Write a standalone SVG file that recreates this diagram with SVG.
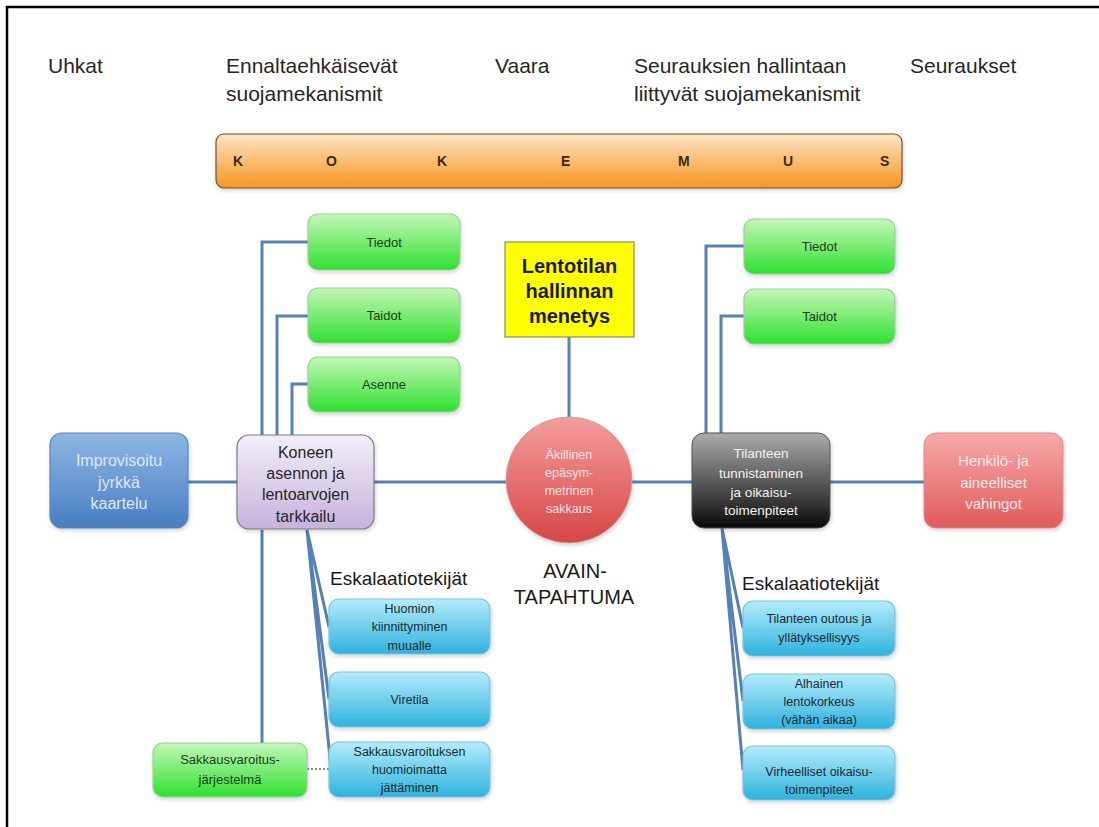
<svg xmlns="http://www.w3.org/2000/svg" width="1099" height="827" viewBox="0 0 1099 827">
<style>
text{font-family:"Liberation Sans",Arial,sans-serif}
.hdr{font-size:21px;fill:#262626}
.bar{font-size:14px;font-weight:bold;fill:#3a2a10}
.c{text-anchor:middle}
.con{fill:none;stroke:#5580b8;stroke-width:3}
.g{fill:url(#gGreen);stroke:#9ccf9c;stroke-width:1.2}
.cy{fill:url(#gCyan);stroke:#7ec3dc;stroke-width:1.2}
.gt{font-size:13px;fill:#1d3b1d}
.ct{font-size:12.5px;fill:#1b2a33}
.esk{font-size:19px;fill:#1a1a1a}
</style>
<defs>
<linearGradient id="gBar" x1="0" y1="0" x2="0" y2="1"><stop offset="0" stop-color="#fde4c6"/><stop offset="1" stop-color="#f7951f"/></linearGradient>
<linearGradient id="gGreen" x1="0" y1="0" x2="0" y2="1"><stop offset="0" stop-color="#c4f7b8"/><stop offset="1" stop-color="#2fe02f"/></linearGradient>
<linearGradient id="gCyan" x1="0" y1="0" x2="0" y2="1"><stop offset="0" stop-color="#b4ecfb"/><stop offset="1" stop-color="#2eb2dd"/></linearGradient>
<linearGradient id="gBlue" x1="0" y1="0" x2="0" y2="1"><stop offset="0" stop-color="#8fb6e4"/><stop offset="1" stop-color="#467ec2"/></linearGradient>
<linearGradient id="gPurple" x1="0" y1="0" x2="0" y2="1"><stop offset="0" stop-color="#f3eef8"/><stop offset="1" stop-color="#c5b3dc"/></linearGradient>
<linearGradient id="gDark" x1="0" y1="0" x2="0" y2="1"><stop offset="0" stop-color="#acacac"/><stop offset="1" stop-color="#0a0a0a"/></linearGradient>
<linearGradient id="gRed" x1="0" y1="0" x2="0" y2="1"><stop offset="0" stop-color="#f6aaaa"/><stop offset="1" stop-color="#e15a5a"/></linearGradient>
<linearGradient id="gCircle" x1="0" y1="0" x2="0" y2="1"><stop offset="0" stop-color="#f39d9d"/><stop offset="1" stop-color="#d84545"/></linearGradient>
<filter id="sh" x="-10%" y="-10%" width="125%" height="130%"><feDropShadow dx="1" dy="2" stdDeviation="2" flood-color="#000" flood-opacity="0.18"/></filter>
</defs>
<rect width="1099" height="827" fill="#fff"/>
<path d="M7,827 V7 H1099" fill="none" stroke="#000" stroke-width="2.5"/>

<g id="headers">
<text class="hdr" x="48" y="73">Uhkat</text>
<text class="hdr" x="226" y="73">Ennaltaehkäisevät</text>
<text class="hdr" x="226" y="101">suojamekanismit</text>
<text class="hdr" x="495" y="73">Vaara</text>
<text class="hdr" x="634" y="73">Seurauksien hallintaan</text>
<text class="hdr" x="634" y="101">liittyvät suojamekanismit</text>
<text class="hdr" x="910" y="73">Seuraukset</text>
</g>

<g id="kokemus">
<rect x="216" y="134" width="686" height="54" rx="8" fill="url(#gBar)" stroke="#6e5230" stroke-width="1.2" filter="url(#sh)"/>
<text class="bar" x="233" y="166">K</text>
<text class="bar" x="326" y="166">O</text>
<text class="bar" x="437" y="166">K</text>
<text class="bar" x="561" y="166">E</text>
<text class="bar" x="678" y="166">M</text>
<text class="bar" x="783" y="166">U</text>
<text class="bar" x="880" y="166">S</text>
</g>

<g id="connectors">
<path class="con" d="M188,482 H237 M374,482 H506 M632,482 H692 M830,482 H924"/>
<path class="con" d="M262,435 V242 H308 M277,435 V316 H308 M292,435 V384 H308"/>
<path class="con" d="M569,337 V417"/>
<path class="con" d="M706,433 V246 H744 M721,433 V316 H744"/>
<path class="con" d="M262,530 V743"/>
<path class="con" d="M307,530 L329,627 M307,530 L329,699 M307,530 L331,768"/>
<path class="con" d="M722,528 L743,628 M722,528 L743,701 M722,528 L743,770"/>
<path d="M307,769 H329" fill="none" stroke="#8a8a8a" stroke-width="2" stroke-dasharray="2 2"/>
</g>

<g id="tiedot-left"><rect class="g" x="308" y="214" width="152" height="56" rx="10" filter="url(#sh)"/><text class="gt c" x="384" y="247">Tiedot</text></g>
<g id="taidot-left"><rect class="g" x="308" y="288" width="152" height="55" rx="10" filter="url(#sh)"/><text class="gt c" x="384" y="320">Taidot</text></g>
<g id="asenne"><rect class="g" x="308" y="357" width="152" height="55" rx="10" filter="url(#sh)"/><text class="gt c" x="384" y="389">Asenne</text></g>

<g id="improvisoitu"><rect x="50" y="433" width="138" height="95" rx="12" fill="url(#gBlue)" stroke="#5a86bf" stroke-width="1.2" filter="url(#sh)"/>
<text class="c" x="119" y="466" font-size="16" fill="#dfe8f4">Improvisoitu</text><text class="c" x="119" y="488" font-size="16" fill="#dfe8f4">jyrkkä</text><text class="c" x="119" y="509" font-size="16" fill="#dfe8f4">kaartelu</text></g>

<g id="koneen"><rect x="237" y="435" width="137" height="94" rx="12" fill="url(#gPurple)" stroke="#7d7d7d" stroke-width="1.2" filter="url(#sh)"/>
<text class="c" x="305.5" y="458" font-size="16" fill="#262626">Koneen</text><text class="c" x="305.5" y="479" font-size="16" fill="#262626">asennon ja</text><text class="c" x="305.5" y="500" font-size="16" fill="#262626">lentoarvojen</text><text class="c" x="305.5" y="522" font-size="16" fill="#262626">tarkkailu</text></g>

<g id="lentotilan"><rect x="505" y="242" width="129" height="95" fill="#ffff00" stroke="#8a8a6a" stroke-width="1.2"/>
<text class="c" x="569.5" y="273" font-size="20" font-weight="bold" fill="#1a1a1a">Lentotilan</text><text class="c" x="569.5" y="298" font-size="20" font-weight="bold" fill="#1a1a1a">hallinnan</text><text class="c" x="569.5" y="323" font-size="20" font-weight="bold" fill="#1a1a1a">menetys</text></g>

<g id="sakkaus"><circle cx="569" cy="480" r="63" fill="url(#gCircle)" stroke="#c9a0a0" stroke-width="1" filter="url(#sh)"/>
<text class="c" x="569" y="459" font-size="12.5" fill="#fbe3e3">Äkillinen</text><text class="c" x="569" y="477" font-size="12.5" fill="#fbe3e3">epäsym-</text><text class="c" x="569" y="495" font-size="12.5" fill="#fbe3e3">metrinen</text><text class="c" x="569" y="513" font-size="12.5" fill="#fbe3e3">sakkaus</text></g>
<g id="avain"><text class="c" x="575" y="578" font-size="20" fill="#1a1a1a">AVAIN-</text><text class="c" x="574" y="604" font-size="20" fill="#1a1a1a">TAPAHTUMA</text></g>

<g id="tilanteen"><rect x="692" y="433" width="138" height="95" rx="12" fill="url(#gDark)" stroke="#555" stroke-width="1" filter="url(#sh)"/>
<text class="c" x="761" y="458" font-size="13.5" fill="#f2f2f2">Tilanteen</text><text class="c" x="761" y="478" font-size="13.5" fill="#f2f2f2">tunnistaminen</text><text class="c" x="761" y="497" font-size="13.5" fill="#f2f2f2">ja oikaisu-</text><text class="c" x="761" y="515" font-size="13.5" fill="#f2f2f2">toimenpiteet</text></g>

<g id="tiedot-right"><rect class="g" x="744" y="219" width="151" height="55" rx="10" filter="url(#sh)"/><text class="gt c" x="819.5" y="251">Tiedot</text></g>
<g id="taidot-right"><rect class="g" x="744" y="289" width="151" height="55" rx="10" filter="url(#sh)"/><text class="gt c" x="819.5" y="321">Taidot</text></g>

<g id="henkilo"><rect x="924" y="433" width="139" height="95" rx="12" fill="url(#gRed)" stroke="#e08a8a" stroke-width="1" filter="url(#sh)"/>
<text class="c" x="993.5" y="466" font-size="15" fill="#fdeaea">Henkilö- ja</text><text class="c" x="993.5" y="488" font-size="15" fill="#fdeaea">aineelliset</text><text class="c" x="993.5" y="509" font-size="15" fill="#fdeaea">vahingot</text></g>

<g id="esk-left"><text class="esk" x="330" y="585">Eskalaatiotekijät</text></g>
<g id="huomion"><rect class="cy" x="329" y="599" width="161" height="55" rx="10" filter="url(#sh)"/>
<text class="ct c" x="409.5" y="613">Huomion</text><text class="ct c" x="409.5" y="631">kiinnittyminen</text><text class="ct c" x="409.5" y="650">muualle</text></g>
<g id="viretila"><rect class="cy" x="329" y="672" width="161" height="55" rx="10" filter="url(#sh)"/><text class="ct c" x="409.5" y="704">Viretila</text></g>
<g id="huomioimatta"><rect class="cy" x="329" y="742" width="161" height="55" rx="10" filter="url(#sh)"/>
<text class="ct c" x="409.5" y="756">Sakkausvaroituksen</text><text class="ct c" x="409.5" y="774">huomioimatta</text><text class="ct c" x="409.5" y="792">jättäminen</text></g>
<g id="varoitusjarjestelma"><rect class="g" x="153" y="743" width="154" height="54" rx="10" filter="url(#sh)"/>
<text class="gt c" x="230" y="764">Sakkausvaroitus-</text><text class="gt c" x="230" y="784">järjestelmä</text></g>

<g id="esk-right"><text class="esk" x="742" y="590">Eskalaatiotekijät</text></g>
<g id="outous"><rect class="cy" x="743" y="601" width="152" height="55" rx="10" filter="url(#sh)"/>
<text class="ct c" x="819" y="623">Tilanteen outous ja</text><text class="ct c" x="819" y="642">yllätyksellisyys</text></g>
<g id="alhainen"><rect class="cy" x="743" y="674" width="152" height="55" rx="10" filter="url(#sh)"/>
<text class="ct c" x="819" y="688">Alhainen</text><text class="ct c" x="819" y="706">lentokorkeus</text><text class="ct c" x="819" y="724">(vähän aikaa)</text></g>
<g id="virheelliset"><rect class="cy" x="743" y="746" width="152" height="54" rx="10" filter="url(#sh)"/>
<text class="ct c" x="819" y="776">Virheelliset oikaisu-</text><text class="ct c" x="819" y="794">toimenpiteet</text></g>
</svg>
